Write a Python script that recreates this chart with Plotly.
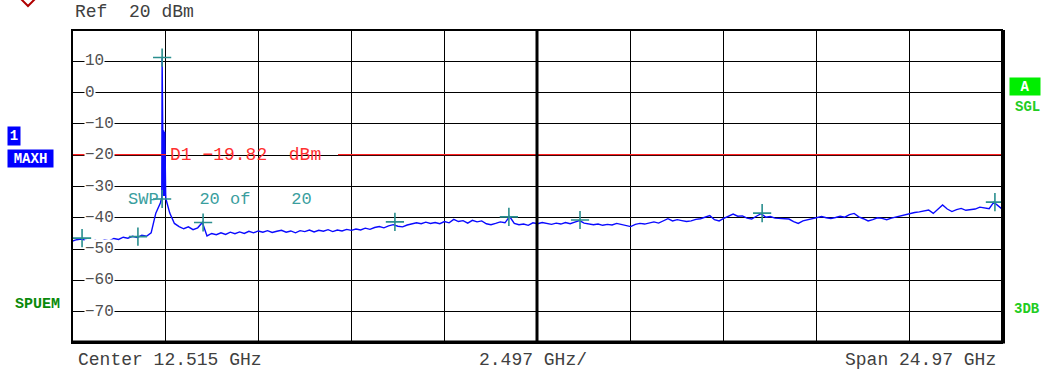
import numpy as np
import plotly.graph_objects as go

# ---------------- data ----------------
ref_level_dbm = 20
center_ghz = 12.515
span_ghz = 24.97
div_ghz = 2.497
start_ghz = 0.03
stop_ghz = 25.0
step_ghz = 0.125

trace_dbm = [
    -47.5, -47.0, -46.8, -47.3, -47.6, -47.2, -47.8, -47.0, -47.4, -46.6,
    -46.9, -46.2, -46.5, -45.9, -46.3, -45.6, -45.9, -44.8, -38.5, -35.2,
    -36.0, -38.5, -41.8, -42.8, -43.5, -42.9, -43.8, -43.2, -41.5, -45.8,
    -45.0, -45.4, -44.8, -45.3, -44.6, -45.1, -44.5, -45.0, -44.3, -44.8,
    -44.2, -44.6, -44.1, -44.7, -44.3, -44.0, -44.6, -44.2, -44.8, -44.1,
    -44.4, -43.9, -44.5, -44.0, -44.3, -43.8, -44.4, -43.9, -44.2, -43.7,
    -44.0, -43.6, -43.9, -43.3, -43.7, -43.1, -42.8, -43.2, -42.6, -42.2,
    -42.7, -42.9, -42.3, -42.0, -41.6, -41.9, -41.4, -41.8, -41.5, -41.9,
    -41.2, -41.6, -40.5, -41.2, -40.9, -41.7, -40.8, -41.3, -41.0, -41.9,
    -42.2, -41.8, -41.3, -41.6, -39.6, -41.8, -42.2, -42.0, -42.4, -41.6,
    -41.9, -41.5, -41.8, -42.1, -41.7, -42.0, -41.5, -41.9, -41.4, -40.9,
    -41.7, -41.9, -42.2, -42.0, -42.4, -42.1, -42.3, -41.8, -42.2, -42.6,
    -42.8, -42.1, -41.8, -42.0, -41.6, -41.3, -41.7, -40.9, -40.3, -41.0,
    -40.6, -40.9, -41.2, -41.0, -40.5, -40.3, -39.8, -39.3, -40.6, -41.0,
    -40.2, -39.6, -38.8, -39.5, -39.4, -40.1, -40.4, -39.5, -38.7, -39.8,
    -39.6, -40.1, -40.2, -40.5, -40.4, -41.2, -41.8, -41.0, -40.7, -40.2,
    -39.9, -39.6, -40.0, -40.2, -39.9, -39.5, -39.8, -39.0, -38.6, -39.7,
    -40.3, -41.0, -40.6, -40.0, -40.2, -40.6, -40.1, -39.7, -39.4, -38.9,
    -38.7, -38.3, -38.1, -37.8, -37.5, -38.6, -37.4, -35.9, -37.2, -38.0,
    -37.4, -37.0, -37.6, -37.5, -37.2, -36.6, -36.8, -37.1, -35.0, -36.2,
    -37.5,
]

spike_ghz = [2.44, 2.45, 2.458, 2.466, 2.474, 2.482, 2.49, 2.498, 2.506,
             2.514, 2.522, 2.53, 2.538, 2.546, 2.552]
spike_dbm = [-33.5, 11.0, -11.5, -33.0, -12.0, -33.0, -12.0, -33.0, -12.0,
             -33.0, -12.5, -33.0, -12.5, -33.0, -34.0]

marker_ghz = [0.30, 1.80, 2.45, 2.45, 3.55, 8.70, 11.76, 13.67, 18.56, 24.81]
marker_dbm = [-46.5, -46.0, 11.2, -34.0, -41.5, -41.3, -39.7, -40.7, -38.5, -35.0]

display_line_dbm = -19.82
y_ticks = [10, 0, -10, -20, -30, -40, -50, -60, -70]
sweep_done = 20
sweep_total = 20

# ---------------- build ----------------
freq = [start_ghz + step_ghz * i for i in range(len(trace_dbm))]
main_pairs = [p for p in zip(freq, trace_dbm) if not (2.44 <= p[0] <= 2.552)]
pairs = sorted(main_pairs + list(zip(spike_ghz, spike_dbm)))
all_f = [p[0] for p in pairs]
all_db = [p[1] for p in pairs]

MONO = "Liberation Mono"

fig = go.Figure()
fig.add_trace(go.Scatter(x=all_f, y=all_db, mode="lines",
                         line=dict(color="#0a0aff", width=1.4),
                         hoverinfo="skip"))
fig.add_trace(go.Scatter(x=marker_ghz, y=marker_dbm, mode="markers",
                         marker=dict(symbol="cross-thin", size=13,
                                     line=dict(color="#2a8f8f", width=1.6)),
                         hoverinfo="skip"))

W, H = 1045, 376
L, R, T, B = 72, 43, 30, 33
PW, PH = W - L - R, H - T - B


def px(xp):
    return (xp - L) / PW


def py(yp):
    return (H - B - yp) / PH


shapes = []
# display line D1 in two segments (text sits in between)
shapes.append(dict(type="line", xref="paper", yref="y", x0=0, x1=px(166),
                   y0=display_line_dbm, y1=display_line_dbm,
                   line=dict(color="#ff2020", width=1.2)))
shapes.append(dict(type="line", xref="paper", yref="y", x0=px(338), x1=1,
                   y0=display_line_dbm, y1=display_line_dbm,
                   line=dict(color="#ff2020", width=1.2)))
# frame
shapes.append(dict(type="rect", xref="paper", yref="paper", x0=0, x1=1, y0=0, y1=1,
                   line=dict(color="black", width=2)))
shapes.append(dict(type="line", xref="paper", yref="paper", x0=px(1003), x1=px(1003),
                   y0=0, y1=1, line=dict(color="black", width=4)))
shapes.append(dict(type="line", xref="paper", yref="paper", x0=0, x1=px(1005),
                   y0=py(342), y1=py(342), line=dict(color="black", width=3)))
shapes.append(dict(type="line", xref="x", yref="paper", x0=center_ghz, x1=center_ghz,
                   y0=0, y1=1, line=dict(color="black", width=3)))
# red chevron at top-left
shapes.append(dict(type="path", xref="paper", yref="paper",
                   path=f"M {px(21)},{py(-1)} L {px(28)},{py(6)} L {px(35)},{py(-1)}",
                   line=dict(color="#b00000", width=2)))

ann = []
for v in y_ticks:
    ann.append(dict(x=px(84), y=v, xref="paper", yref="y", xanchor="left",
                    yanchor="middle", text=str(v).replace("-", "\u2212"),
                    showarrow=False, bgcolor="white", borderpad=0,
                    font=dict(family=MONO, size=16, color="#505050")))

ann.append(dict(x=px(73), y=py(12), xref="paper", yref="paper", xanchor="left",
                yanchor="middle", text=f"Ref  {ref_level_dbm} dBm", showarrow=False,
                font=dict(family=MONO, size=18, color="#404040")))
ann.append(dict(x=px(76), y=py(360), xref="paper", yref="paper", xanchor="left",
                yanchor="middle", text=f"Center {center_ghz} GHz", showarrow=False,
                font=dict(family=MONO, size=18, color="#404040")))
ann.append(dict(x=px(533), y=py(360), xref="paper", yref="paper", xanchor="center",
                yanchor="middle", text=f"{div_ghz} GHz/", showarrow=False,
                font=dict(family=MONO, size=18, color="#404040")))
ann.append(dict(x=px(998), y=py(360), xref="paper", yref="paper", xanchor="right",
                yanchor="middle", text=f"Span {span_ghz} GHz", showarrow=False,
                font=dict(family=MONO, size=18, color="#404040")))
ann.append(dict(x=px(168), y=display_line_dbm, xref="paper", yref="y", xanchor="left",
                yanchor="middle", text=f"D1 {display_line_dbm}  dBm".replace("-", "\u2212"),
                showarrow=False,
                font=dict(family=MONO, size=18, color="#ff3030")))
ann.append(dict(x=px(126), y=py(199), xref="paper", yref="paper", xanchor="left",
                yanchor="middle", text=f"SWP    {sweep_done} of    {sweep_total}",
                showarrow=False,
                font=dict(family=MONO, size=17, color="#3a9e9e")))

# left side status labels
ann.append(dict(x=px(14), y=py(136), xref="paper", yref="paper", xanchor="center",
                yanchor="middle", text="<b>1</b>", showarrow=False, bgcolor="#0000ff",
                width=12, height=18, borderpad=0,
                font=dict(family=MONO, size=14, color="white")))
ann.append(dict(x=px(30.5), y=py(158), xref="paper", yref="paper", xanchor="center",
                yanchor="middle", text="<b>MAXH</b>", showarrow=False, bgcolor="#0000ff",
                width=45, height=17, borderpad=0,
                font=dict(family=MONO, size=14, color="white")))
ann.append(dict(x=px(37), y=py(304), xref="paper", yref="paper", xanchor="center",
                yanchor="middle", text="<b>SPUEM</b>", showarrow=False,
                font=dict(family=MONO, size=15, color="#0a8a0a")))
# right side status labels
ann.append(dict(x=px(1025), y=py(86), xref="paper", yref="paper", xanchor="center",
                yanchor="middle", text="<b>A</b>", showarrow=False, bgcolor="#00ee00",
                width=30, height=17, borderpad=0,
                font=dict(family=MONO, size=14, color="white")))
ann.append(dict(x=px(1027), y=py(107), xref="paper", yref="paper", xanchor="center",
                yanchor="middle", text="<b>SGL</b>", showarrow=False,
                font=dict(family=MONO, size=14, color="#22cc22")))
ann.append(dict(x=px(1027), y=py(309), xref="paper", yref="paper", xanchor="center",
                yanchor="middle", text="<b>3DB</b>", showarrow=False,
                font=dict(family=MONO, size=14, color="#22cc22")))

fig.update_layout(
    width=W, height=H,
    margin=dict(l=L, r=R, t=T, b=B),
    paper_bgcolor="white", plot_bgcolor="white",
    showlegend=False,
    xaxis=dict(range=[start_ghz, stop_ghz], tick0=start_ghz, dtick=div_ghz,
               showgrid=True, gridcolor="black", gridwidth=1,
               showticklabels=False, ticks="", zeroline=False, showline=False),
    yaxis=dict(range=[ref_level_dbm - 100, ref_level_dbm], tick0=0, dtick=10,
               showgrid=True, gridcolor="black", gridwidth=1,
               showticklabels=False, ticks="", zeroline=False, showline=False),
    shapes=shapes,
    annotations=ann,
)

fig.write_html("out.html", config={"displayModeBar": False},
               post_script="document.body.style.margin='0';document.body.style.overflow='hidden';")
